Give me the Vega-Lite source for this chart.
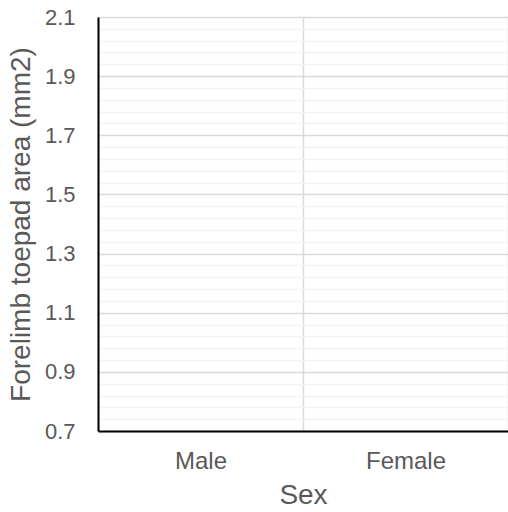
{
  "$schema": "https://vega.github.io/schema/vega-lite/v6.json",
  "autosize": "none",
  "width": 410,
  "height": 414,
  "padding": {"left": 98, "top": 17, "right": 0, "bottom": 81},
  "config": {"view": {"stroke": null}, "font": "Liberation Sans"},
  "data": {"values": [
    {"Sex": "Male", "area": null},
    {"Sex": "Female", "area": null}
  ]},
  "mark": {"type": "point", "opacity": 0},
  "encoding": {
    "x": {
      "field": "Sex", "type": "nominal", "sort": ["Male", "Female"],
      "scale": {"paddingInner": 0, "paddingOuter": 0},
      "axis": {
        "title": "Sex", "titleFontSize": 28, "titleFontWeight": "normal", "titleColor": "#595959", "titlePadding": 8,
        "labelAngle": 0, "labelFontSize": 24, "labelColor": "#595959", "labelPadding": 18,
        "ticks": false, "domainColor": "#000000", "domainWidth": 2,
        "grid": true, "gridColor": "#d9d9d9", "gridWidth": 1.5, "tickBand": "extent"
      }
    },
    "y": {
      "field": "area", "type": "quantitative",
      "scale": {"domain": [0.7, 2.1], "nice": false, "zero": false},
      "axis": {
        "title": "Forelimb toepad area (mm2)", "titleFontSize": 28, "titleFontWeight": "normal", "titleColor": "#595959", "titlePadding": 9,
        "values": [0.7,0.74,0.78,0.82,0.86,0.9,0.94,0.98,1.02,1.06,1.1,1.14,1.18,1.22,1.26,1.3,1.34,1.38,1.42,1.46,1.5,1.54,1.58,1.62,1.66,1.7,1.74,1.78,1.82,1.86,1.9,1.94,1.98,2.02,2.06,2.1],
        "labelExpr": "abs(round((datum.value-0.7)/0.2)*0.2+0.7-datum.value) < 0.001 ? format(datum.value, '.1f') : ''",
        "labelFontSize": 22, "labelColor": "#595959", "labelPadding": 23,
        "ticks": false, "domainColor": "#000000", "domainWidth": 2,
        "grid": true,
        "gridColor": {"condition": {"test": "abs(round((datum.value-0.7)/0.2)*0.2+0.7-datum.value) < 0.001", "value": "#d9d9d9"}, "value": "#f2f2f2"},
        "gridWidth": 1.5
      }
    }
  }
}
